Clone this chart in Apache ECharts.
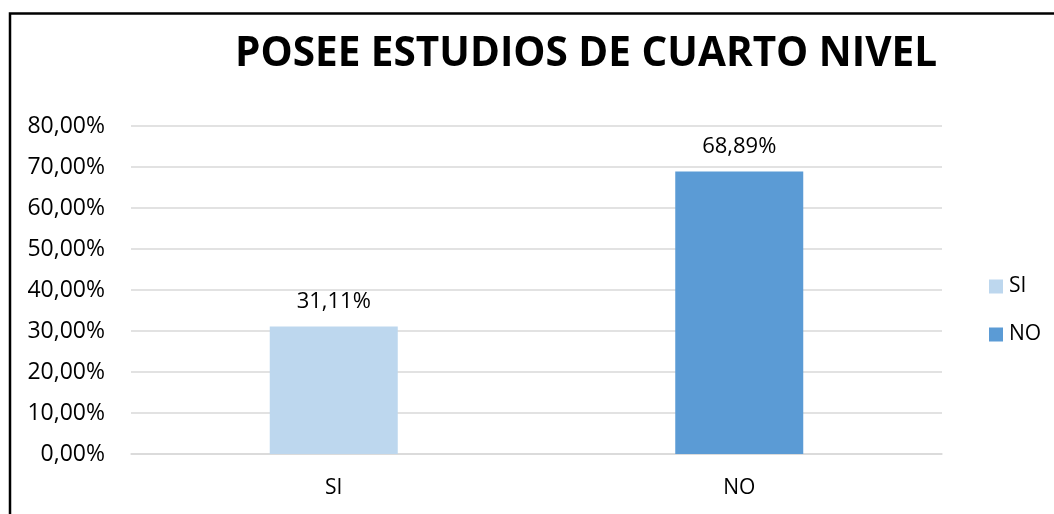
<!DOCTYPE html>
<html>
<head>
<meta charset="utf-8">
<script src="https://cdn.jsdelivr.net/npm/echarts@6/dist/echarts.min.js"></script>
<style>
  html, body { margin: 0; padding: 0; background: #fff; }
  #main { width: 1054px; height: 514px; }
</style>
</head>
<body>
<div id="main"></div>
<script>
const categories = ['SI', 'NO']
const siValues = [31.11, '-']
const noValues = ['-', 68.89]
const yTicks = { min: 0, max: 80, interval: 10 }

const fmt = (v) => Number(v).toFixed(2).replace('.', ',') + '%'
const font = 'Open Sans'

const chart = echarts.init(document.getElementById('main'))
const option = {
  animation: false,
  backgroundColor: '#fff',
  title: {
    text: 'POSEE ESTUDIOS DE CUARTO NIVEL',
    left: 230,
    top: 29,
    textStyle: { fontFamily: font, fontWeight: 'bold', fontSize: 40.5, color: '#000' }
  },
  graphic: [{
    type: 'rect',
    shape: { x: 10, y: 13.5, width: 1100, height: 600 },
    style: { fill: 'none', stroke: '#000', lineWidth: 2.5 },
    silent: true
  }],
  legend: {
    orient: 'vertical',
    left: 984,
    top: 271,
    itemWidth: 14,
    itemHeight: 14,
    itemGap: 27,
    icon: 'rect',
    textStyle: { fontFamily: font, fontSize: 21, color: '#000', padding: [0, 0, 0, 1] },
    data: ['SI', 'NO']
  },
  grid: { left: 131, right: 112, top: 126, bottom: 60 },
  xAxis: {
    type: 'category',
    data: categories,
    axisLine: { lineStyle: { color: '#D9D9D9', width: 1.5 } },
    axisTick: { show: false },
    axisLabel: { fontFamily: font, fontSize: 21, color: '#000', margin: 24 }
  },
  yAxis: {
    type: 'value',
    min: yTicks.min,
    max: yTicks.max,
    interval: yTicks.interval,
    axisLine: { show: false },
    axisTick: { show: false },
    splitLine: { lineStyle: { color: '#D9D9D9', width: 1.5 } },
    axisLabel: { fontFamily: font, fontSize: 23, color: '#000', margin: 26, formatter: fmt }
  },
  series: [
    {
      name: 'SI', type: 'bar', stack: 'all', barWidth: 128,
      data: siValues,
      itemStyle: { color: '#BDD7EE' },
      label: { show: true, position: 'top', distance: 14, fontFamily: font, fontSize: 22, color: '#000',
        formatter: (p) => fmt(p.value) }
    },
    {
      name: 'NO', type: 'bar', stack: 'all', barWidth: 128,
      data: noValues,
      itemStyle: { color: '#5B9BD5' },
      label: { show: true, position: 'top', distance: 14, fontFamily: font, fontSize: 22, color: '#000',
        formatter: (p) => fmt(p.value) }
    }
  ]
}
chart.setOption(option)
</script>
</body>
</html>
